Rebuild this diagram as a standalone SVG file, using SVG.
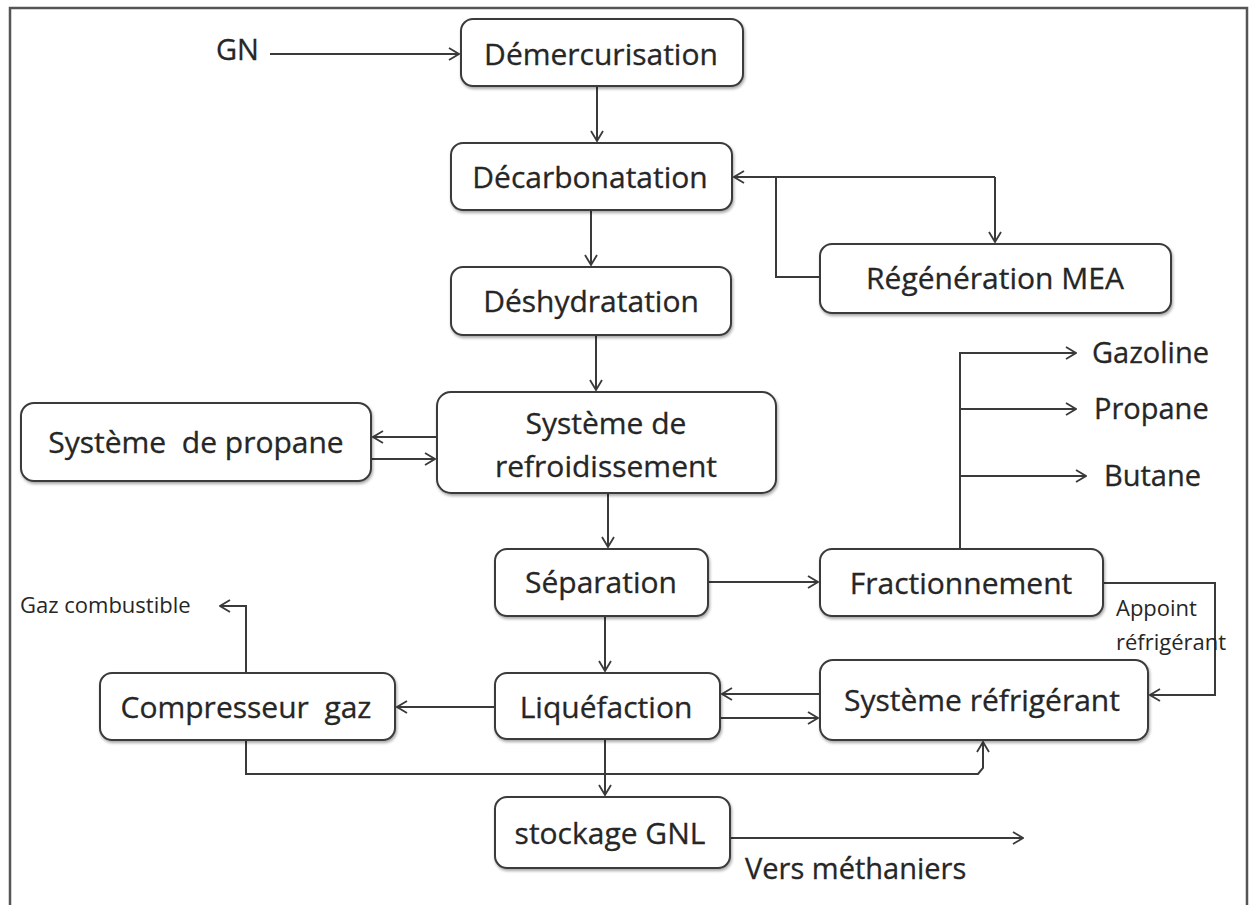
<svg xmlns="http://www.w3.org/2000/svg" width="1250" height="905" viewBox="0 0 1250 905">
<defs>
<marker id="arr" viewBox="0 0 12 14" refX="11" refY="7" markerWidth="12" markerHeight="14" markerUnits="userSpaceOnUse" orient="auto">
<path d="M1,1 L11,7 L1,13" fill="none" stroke="#3a3a3a" stroke-width="1.8"/>
</marker>
<filter id="sh" x="-5%" y="-5%" width="115%" height="125%">
<feGaussianBlur in="SourceAlpha" stdDeviation="1.5"/>
<feOffset dx="1" dy="2" result="b"/>
<feComponentTransfer><feFuncA type="linear" slope="0.35"/></feComponentTransfer>
<feMerge><feMergeNode/><feMergeNode in="SourceGraphic"/></feMerge>
</filter>
</defs>
<style>
.box{fill:#fff;stroke:#3a3a3a;stroke-width:2;filter:url(#sh)}
.t{font-family:"Open Sans","Liberation Sans",sans-serif;font-size:30px;fill:#262626;stroke:#262626;stroke-width:0.3;text-anchor:middle}
.s{font-family:"Open Sans","Liberation Sans",sans-serif;font-size:29px;fill:#262626;stroke:#262626;stroke-width:0.3}
.xs{font-family:"Open Sans","Liberation Sans",sans-serif;font-size:22px;fill:#262626}
.c{fill:none;stroke:#3a3a3a;stroke-width:2}
.frame{fill:none;stroke:#555;stroke-width:2.5}
</style>
<rect width="1250" height="905" fill="#fff"/>
<path class="frame" d="M10,905 V8 H1247 V905"/>

<g id="connectors">
<path class="c" d="M270,54 H459" marker-end="url(#arr)"/>
<path class="c" d="M597,86 V141" marker-end="url(#arr)"/>
<path class="c" d="M591,210 V265" marker-end="url(#arr)"/>
<path class="c" d="M596,335 V390" marker-end="url(#arr)"/>
<path class="c" d="M608,493 V547" marker-end="url(#arr)"/>
<path class="c" d="M605,616 V671" marker-end="url(#arr)"/>
<path class="c" d="M605,739 V795" marker-end="url(#arr)"/>
<path class="c" d="M708,582 H818" marker-end="url(#arr)"/>
<path class="c" d="M995,177 H734" marker-end="url(#arr)"/>
<path class="c" d="M995,177 V242" marker-end="url(#arr)"/>
<path class="c" d="M820,277 H776 V177"/>
<path class="c" d="M437,437 H373" marker-end="url(#arr)"/>
<path class="c" d="M371,459 H435" marker-end="url(#arr)"/>
<path class="c" d="M960,549 V353 H1076" marker-end="url(#arr)"/>
<path class="c" d="M960,409 H1076" marker-end="url(#arr)"/>
<path class="c" d="M960,476 H1086" marker-end="url(#arr)"/>
<path class="c" d="M1103,583 H1215 V695 H1150" marker-end="url(#arr)"/>
<path class="c" d="M820,694 H722" marker-end="url(#arr)"/>
<path class="c" d="M720,718 H818" marker-end="url(#arr)"/>
<path class="c" d="M495,707 H397" marker-end="url(#arr)"/>
<path class="c" d="M246,673 V606 H220" marker-end="url(#arr)"/>
<path class="c" d="M246,740 V774 H978 L983,768 V742" marker-end="url(#arr)"/>
<path class="c" d="M730,838 H1023" marker-end="url(#arr)"/>
</g>

<g id="n-demercurisation"><rect class="box" x="461" y="19" width="282" height="67" rx="12"/><text class="t" x="601" y="65">Démercurisation</text></g>
<g id="n-decarbonatation"><rect class="box" x="451" y="143" width="281" height="67" rx="12"/><text class="t" x="590" y="188">Décarbonatation</text></g>
<g id="n-deshydratation"><rect class="box" x="451" y="267" width="280" height="68" rx="12"/><text class="t" x="591" y="312">Déshydratation</text></g>
<g id="n-refroidissement"><rect class="box" x="437" y="392" width="339" height="101" rx="14"/><text class="t" x="606" y="434">Système de</text><text class="t" x="606" y="477">refroidissement</text></g>
<g id="n-propane"><rect class="box" x="21" y="403" width="350" height="78" rx="13"/><text class="t" x="196" y="453" xml:space="preserve">Système  de propane</text></g>
<g id="n-regeneration"><rect class="box" x="820" y="244" width="351" height="69" rx="12"/><text class="t" x="995" y="289">Régénération MEA</text></g>
<g id="n-separation"><rect class="box" x="495" y="549" width="213" height="67" rx="12"/><text class="t" x="601" y="593">Séparation</text></g>
<g id="n-fractionnement"><rect class="box" x="820" y="549" width="283" height="67" rx="12"/><text class="t" x="961" y="594">Fractionnement</text></g>
<g id="n-liquefaction"><rect class="box" x="495" y="673" width="225" height="66" rx="12"/><text class="t" x="606" y="718">Liquéfaction</text></g>
<g id="n-refrigerant"><rect class="box" x="820" y="660" width="328" height="80" rx="13"/><text class="t" x="982" y="711">Système réfrigérant</text></g>
<g id="n-compresseur"><rect class="box" x="100" y="673" width="295" height="67" rx="12"/><text class="t" x="246" y="718" xml:space="preserve">Compresseur  gaz</text></g>
<g id="n-stockage"><rect class="box" x="495" y="797" width="235" height="71" rx="12"/><text class="t" x="610" y="844">stockage GNL</text></g>

<g id="labels">
<text class="s" x="216" y="60">GN</text>
<text class="s" x="1092" y="363">Gazoline</text>
<text class="s" x="1094" y="419">Propane</text>
<text class="s" x="1104" y="486">Butane</text>
<text class="s" x="745" y="879">Vers méthaniers</text>
<text class="xs" x="20" y="613">Gaz combustible</text>
<text class="xs" x="1116" y="616">Appoint</text>
<text class="xs" x="1116" y="650">réfrigérant</text>
</g>
</svg>
